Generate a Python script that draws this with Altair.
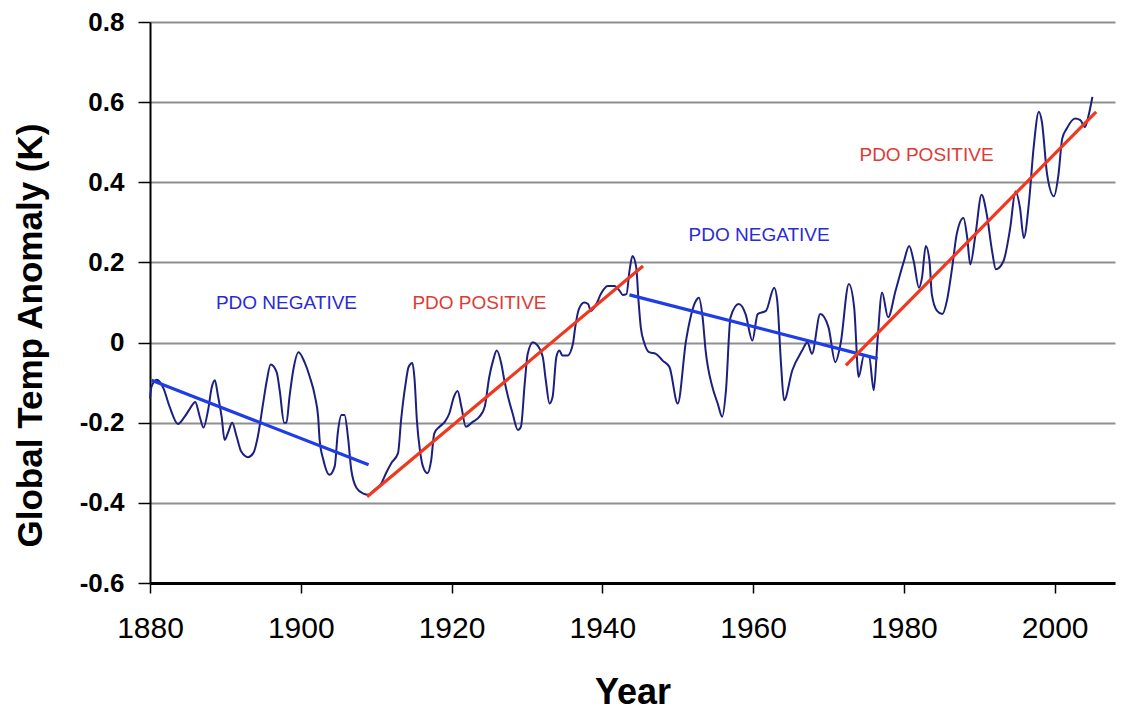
import altair as alt
import pandas as pd

years = [1880.0, 1880.2, 1880.9, 1881.8, 1882.6, 1883.7, 1884.6, 1885.3, 1886.0, 1886.6,
         1887.1, 1887.7, 1888.2, 1888.6, 1889.0, 1889.5, 1889.9, 1890.4, 1890.9, 1891.5,
         1892.1, 1893.0, 1893.7, 1894.3, 1895.0, 1895.5, 1896.0, 1896.8, 1897.2, 1897.8,
         1898.1, 1898.5, 1899.0, 1899.7, 1900.5, 1901.2, 1901.9, 1902.3, 1902.5, 1903.0,
         1903.8, 1904.5, 1904.9, 1905.4, 1905.8, 1906.3, 1906.7, 1907.4, 1908.3, 1909.0,
         1909.8, 1910.7, 1911.3, 1912.0, 1912.9, 1913.3, 1913.9, 1914.3, 1914.8, 1915.1,
         1915.4, 1915.8, 1916.2, 1916.8, 1917.3, 1917.7, 1918.4, 1919.1, 1919.7, 1920.3,
         1920.8, 1921.3, 1921.9, 1922.8, 1923.7, 1924.4, 1925.0, 1925.5, 1926.0, 1926.6,
         1927.0, 1927.5, 1928.1, 1928.8, 1929.2, 1929.7, 1930.1, 1930.8, 1931.4, 1932.1,
         1932.5, 1933.0, 1933.4, 1933.9, 1934.3, 1934.7, 1935.4, 1936.1, 1936.4, 1936.9,
         1937.6, 1938.1, 1938.5, 1939.2, 1939.8, 1940.7, 1941.6, 1942.3, 1942.7, 1943.2,
         1943.6, 1944.0, 1944.5, 1944.8, 1945.1, 1945.6, 1946.2, 1947.1, 1948.0, 1948.9,
         1950.0, 1951.1, 1952.4, 1952.8, 1953.3, 1953.7, 1954.6, 1955.3, 1955.9, 1956.4,
         1957.0, 1958.1, 1959.0, 1959.9, 1960.6, 1961.7, 1962.8, 1963.2, 1963.7, 1964.1,
         1965.2, 1966.5, 1967.2, 1967.8, 1968.9, 1970.0, 1970.9, 1971.6, 1972.7, 1973.4,
         1974.0, 1974.7, 1975.4, 1976.0, 1976.5, 1977.1, 1977.9, 1978.9, 1980.0, 1980.7,
         1981.3, 1982.0, 1982.4, 1982.9, 1983.4, 1983.7, 1984.4, 1985.1, 1985.7, 1986.4,
         1987.0, 1987.9, 1988.4, 1988.8, 1989.5, 1990.3, 1991.0, 1991.7, 1992.2, 1993.2,
         1994.1, 1994.8, 1995.4, 1995.9, 1996.6, 1997.2, 1997.9, 1998.3, 1999.0, 1999.9,
         2000.5, 2001.0, 2001.6, 2002.7, 2003.4, 2004.0, 2004.5, 2005.0]

anomaly = [-0.14, -0.11, -0.093, -0.115, -0.16, -0.203, -0.185, -0.165, -0.148, -0.185,
           -0.212, -0.169, -0.111, -0.094, -0.131, -0.185, -0.243, -0.222, -0.2, -0.235,
           -0.272, -0.286, -0.276, -0.235, -0.152, -0.094, -0.055, -0.074, -0.119, -0.2,
           -0.2, -0.136, -0.069, -0.024, -0.049, -0.086, -0.136, -0.185, -0.243, -0.293,
           -0.33, -0.309, -0.227, -0.181, -0.181, -0.243, -0.318, -0.363, -0.377, -0.38,
           -0.367, -0.351, -0.326, -0.301, -0.276, -0.194, -0.103, -0.061, -0.051, -0.094,
           -0.194, -0.268, -0.309, -0.326, -0.293, -0.227, -0.21, -0.198, -0.177, -0.136,
           -0.121, -0.16, -0.21, -0.198, -0.185, -0.16, -0.086, -0.045, -0.02, -0.053,
           -0.094, -0.136, -0.177, -0.218, -0.21, -0.103, -0.028, 0.001, -0.007, -0.036,
           -0.094, -0.152, -0.136, -0.036, -0.02, -0.032, -0.032, -0.003, 0.038, 0.084,
           0.1, 0.096, 0.079, 0.096, 0.121, 0.141, 0.141, 0.129, 0.119, 0.121,
           0.179, 0.216, 0.187, 0.104, 0.038, -0.003, -0.024, -0.028, -0.045, -0.061,
           -0.152, 0.005, 0.104, 0.112, 0.063, -0.02, -0.111, -0.152, -0.185, -0.119,
           0.063, 0.096, 0.071, 0.005, 0.071, 0.079, 0.137, 0.104, -0.053, -0.144,
           -0.069, -0.02, 0.001, -0.028, 0.071, 0.038, -0.049, -0.003, 0.146, 0.088,
           -0.086, -0.032, -0.036, -0.119, 0.005, 0.125, 0.063, 0.13, 0.203, 0.241,
           0.203, 0.137, 0.162, 0.241, 0.203, 0.121, 0.079, 0.071, 0.104, 0.187,
           0.27, 0.311, 0.261, 0.195, 0.27, 0.369, 0.319, 0.228, 0.183, 0.203,
           0.286, 0.377, 0.336, 0.261, 0.352, 0.485, 0.576, 0.551, 0.419, 0.365,
           0.419, 0.509, 0.534, 0.559, 0.555, 0.538, 0.567, 0.613]

trend_seg = ["neg1", "neg1", "pos1", "pos1", "neg2", "neg2", "pos2", "pos2"]
trend_year = [1880.2, 1909.0, 1908.8, 1945.4, 1943.6, 1976.5, 1972.3, 2005.5]
trend_val = [-0.094, -0.305, -0.385, 0.191, 0.119, -0.04, -0.057, 0.576]
trend_color = ["#1f3de6", "#1f3de6", "#f0381f", "#f0381f",
               "#1f3de6", "#1f3de6", "#f0381f", "#f0381f"]

label_text = ["PDO NEGATIVE", "PDO POSITIVE", "PDO NEGATIVE", "PDO POSITIVE"]
label_year = [1898.1, 1923.7, 1960.8, 1983.0]
label_val = [0.099, 0.099, 0.268, 0.469]
label_color = ["#2a2ad8", "#e03a35", "#2a2ad8", "#e03a35"]

y_ticks = [-0.6, -0.4, -0.2, 0, 0.2, 0.4, 0.6, 0.8]
x_ticks = [1880, 1900, 1920, 1940, 1960, 1980, 2000]

curve_df = pd.DataFrame({"year": years, "anomaly": anomaly})
trend_df = pd.DataFrame({"seg": trend_seg, "year": trend_year, "anomaly": trend_val, "color": trend_color})
label_df = pd.DataFrame({"text": label_text, "year": label_year, "anomaly": label_val, "color": label_color})

FONT = "Liberation Sans, Arial, sans-serif"

x_enc = alt.X(
    "year:Q",
    scale=alt.Scale(domain=[1880, 2008], nice=False, zero=False),
    axis=alt.Axis(
        values=x_ticks, format="d", title="Year", grid=False,
        domainColor="black", domainWidth=3, tickColor="black", tickWidth=1.5,
        tickSize=10, labelFontSize=30, labelFont=FONT, labelColor="black",
        labelPadding=20, labelFlush=False,
        titleFontSize=36, titleFont=FONT, titleFontWeight="bold", titleColor="black",
        titleY=120, titleBaseline="alphabetic",
    ),
)
y_enc = alt.Y(
    "anomaly:Q",
    scale=alt.Scale(domain=[-0.6, 0.8], nice=False, zero=False),
    axis=alt.Axis(
        values=y_ticks, title="Global Temp Anomaly (K)",
        labelExpr="datum.value == 0 ? '0' : replace(format(datum.value, '.1f'), '\u2212', '-')",
        grid=True, gridColor="#8f8f8f", gridWidth=2,
        domainColor="black", domainWidth=2, tickColor="black", tickWidth=1.5,
        tickSize=12, labelFontSize=26, labelFont=FONT, labelFontWeight="bold",
        labelColor="black", labelPadding=14,
        titleFontSize=35, titleFont=FONT, titleFontWeight="bold", titleColor="black",
        titleX=-102, titleY=313, titleAngle=-90, titleBaseline="bottom", titleAlign="center",
    ),
)

curve = alt.Chart(curve_df).mark_line(
    color="#1c1f7e", strokeWidth=2, interpolate="monotone"
).encode(x=x_enc, y=y_enc)

trends = alt.Chart(trend_df).mark_line(strokeWidth=3.2).encode(
    x="year:Q", y="anomaly:Q",
    detail="seg:N",
    color=alt.Color("color:N", scale=None),
)

labels = alt.Chart(label_df).mark_text(
    font=FONT, fontSize=19, align="center", baseline="middle"
).encode(
    x="year:Q", y="anomaly:Q", text="text:N",
    color=alt.Color("color:N", scale=None),
)

chart = alt.layer(curve, trends, labels).properties(
    width=965, height=561,
    autosize=alt.AutoSizeParams(type="none"),
    padding={"left": 142, "top": 14, "right": 5, "bottom": 132},
    background="white",
).configure_view(stroke=None)

chart.save("out.html", embed_options={"renderer": "svg", "actions": False})
